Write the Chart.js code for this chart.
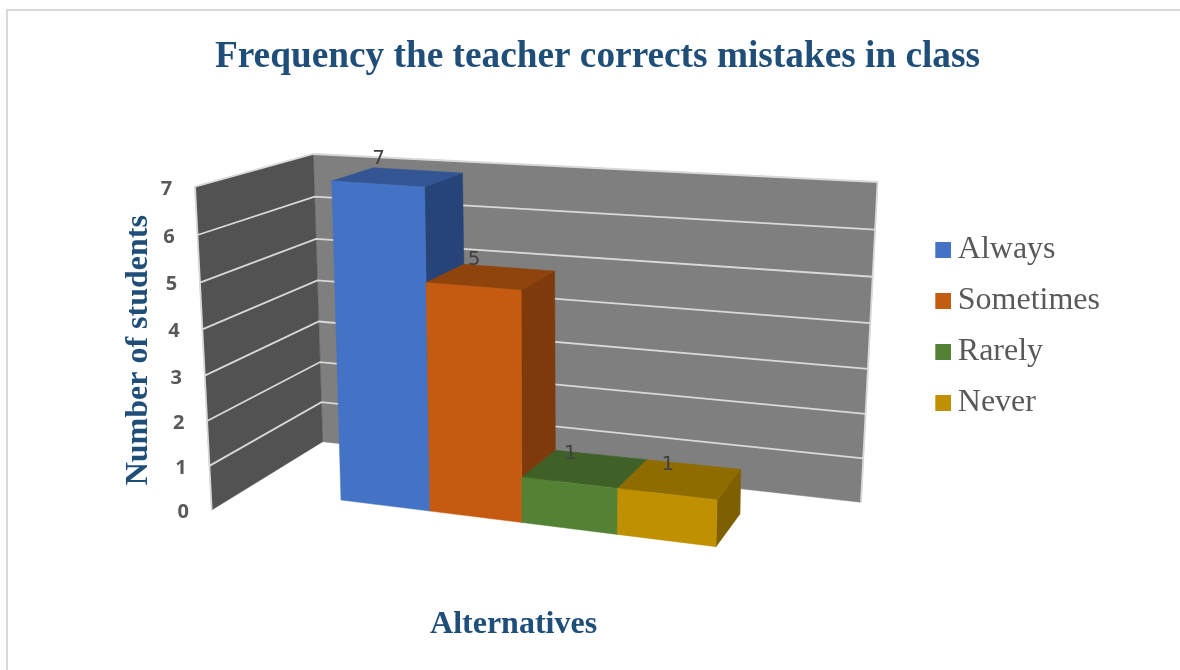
<!DOCTYPE html>
<html>
<head>
<meta charset="utf-8">
<script src="https://cdn.jsdelivr.net/npm/chart.js@4"></script>
<style>
  body { margin: 0; background: #fff; }
  #wrap { position: relative; width: 1180px; height: 670px; overflow: hidden; }
  #frame { position: absolute; left: 6px; top: 9px; right: -4px; bottom: -4px; border: 2px solid #d9d9d9; }
  canvas { position: absolute; left: 0; top: 0; }
</style>
</head>
<body>
<div id="wrap">
  <div id="frame"></div>
  <canvas id="myChart" width="1180" height="670"></canvas>
</div>
<script>
const chartTitle = 'Frequency the teacher corrects mistakes in class';
const yAxisTitle = 'Number of students';
const xAxisTitle = 'Alternatives';
const categories = ['Always', 'Sometimes', 'Rarely', 'Never'];
const studentCounts = [7, 5, 1, 1];
const yMin = 0;
const yMax = 7;
const yStep = 1;

const frontColors = ['#4472c4', '#c55a11', '#548235', '#bf9000'];
const topColors = ['#335593', '#8f440d', '#3f6128', '#8f6c00'];
const sideColors = ['#264478', '#7f3a0b', '#3a5a25', '#7f6000'];

// the 3d view: each plane goes bottom-left, bottom-right, top-right, top-left
const barFrontPlane = [[341, 500], [716, 546.7], [724, 206], [331.7, 181]];
const barBackPlane = [[381, 475], [740, 514], [746, 190], [373.3, 167.7]];
const backWall = [[322.7, 441.7], [861, 502.3], [877.6, 182], [313.3, 154]];
const leftWall = [[211.7, 510], [322.7, 441.7], [313.3, 154], [195, 186.7]];

function planeMapper(q) {
  const [p0, p1, p2, p3] = q;
  const dx1 = p1[0] - p2[0], dx2 = p3[0] - p2[0], sx = p0[0] - p1[0] + p2[0] - p3[0];
  const dy1 = p1[1] - p2[1], dy2 = p3[1] - p2[1], sy = p0[1] - p1[1] + p2[1] - p3[1];
  const den = dx1 * dy2 - dx2 * dy1;
  const g = (sx * dy2 - dx2 * sy) / den;
  const h = (dx1 * sy - sx * dy1) / den;
  const a = p1[0] - p0[0] + g * p1[0], b = p3[0] - p0[0] + h * p3[0];
  const d = p1[1] - p0[1] + g * p1[1], e = p3[1] - p0[1] + h * p3[1];
  return (u, v) => {
    const w = g * u + h * v + 1;
    return [(a * u + b * v + p0[0]) / w, (d * u + e * v + p0[1]) / w];
  };
}

const onFront = planeMapper(barFrontPlane);
const onBack = planeMapper(barBackPlane);
const onBackWall = planeMapper(backWall);
const onLeftWall = planeMapper(leftWall);

function fillQuad(ctx, pts, color) {
  ctx.beginPath();
  pts.forEach((p, i) => i ? ctx.lineTo(p[0], p[1]) : ctx.moveTo(p[0], p[1]));
  ctx.closePath();
  ctx.fillStyle = color;
  ctx.strokeStyle = color;
  ctx.lineWidth = 0.5;
  ctx.fill();
  ctx.stroke();
}

function drawWalls(chart) {
  const ctx = chart.ctx;
  const scale = chart.scales.y;
  const area = chart.chartArea;
  fillQuad(ctx, backWall, '#7f7f7f');
  fillQuad(ctx, leftWall, '#525252');

  ctx.strokeStyle = '#d9d9d9';
  ctx.lineWidth = 1.8;
  ctx.beginPath();
  scale.ticks.forEach((tick) => {
    const v = (area.bottom - scale.getPixelForValue(tick.value)) / area.height;
    if (v > 0) {
      const a = onLeftWall(0, v), b = onBackWall(0, v), c = onBackWall(1, v);
      ctx.moveTo(a[0], a[1]);
      ctx.lineTo(b[0], b[1]);
      ctx.lineTo(c[0], c[1]);
    }
  });
  ctx.moveTo(backWall[1][0], backWall[1][1]);
  ctx.lineTo(backWall[2][0], backWall[2][1]);
  ctx.moveTo(leftWall[0][0], leftWall[0][1]);
  ctx.lineTo(leftWall[3][0], leftWall[3][1]);
  ctx.stroke();

  // y tick labels follow the slanted front edge of the left wall
  ctx.font = 'bold 20px "Open Sans"';
  ctx.fillStyle = '#595959';
  ctx.textAlign = 'center';
  ctx.textBaseline = 'middle';
  scale.ticks.forEach((tick) => {
    const v = (area.bottom - scale.getPixelForValue(tick.value)) / area.height;
    const p = onLeftWall(0, v);
    ctx.fillText(tick.label, p[0] - 28.5, p[1] + 2.2);
  });
}

function drawBars(chart) {
  const ctx = chart.ctx;
  const area = chart.chartArea;
  chart.data.datasets.forEach((dataset, i) => {
    const bar = chart.getDatasetMeta(i).data[0];
    const u0 = (bar.x - bar.width / 2 - area.left) / area.width;
    const u1 = (bar.x + bar.width / 2 - area.left) / area.width;
    const v0 = (area.bottom - bar.base) / area.height;
    const v1 = (area.bottom - bar.y) / area.height;
    fillQuad(ctx, [onFront(u1, v0), onBack(u1, v0), onBack(u1, v1), onFront(u1, v1)], sideColors[i]);
    fillQuad(ctx, [onFront(u0, v1), onFront(u1, v1), onBack(u1, v1), onBack(u0, v1)], topColors[i]);
    fillQuad(ctx, [onFront(u0, v0), onFront(u1, v0), onFront(u1, v1), onFront(u0, v1)], frontColors[i]);
  });

  ctx.font = '20px "DejaVu Sans"';
  ctx.fillStyle = '#404040';
  ctx.textAlign = 'center';
  ctx.textBaseline = 'middle';
  chart.data.datasets.forEach((dataset, i) => {
    const bar = chart.getDatasetMeta(i).data[0];
    const v = (area.bottom - bar.y) / area.height;
    const p = onFront((bar.x - area.left) / area.width, v);
    ctx.fillText(dataset.data[0], p[0] + 1, p[1] - 29.5 + 4.5 * v);
  });
}

const view3d = {
  id: 'view3d',
  afterLayout(chart) {
    // title and legend sit off-centre in the original
    chart.titleBlock.left += 15;
    chart.titleBlock.right += 15;
    chart.legend.left += 65;
    chart.legend.right += 65;
    chart.legend.top -= 1;
    chart.legend.bottom -= 1;
  },
  beforeDatasetsDraw(chart) {
    drawWalls(chart);
    drawBars(chart);
    return false;
  }
};

function legendSwatch(color) {
  const c = document.createElement('canvas');
  c.width = 20;
  c.height = 16;
  const g = c.getContext('2d');
  g.fillStyle = color;
  g.fillRect(4, 0, 16, 16);
  return c;
}

const swatches = frontColors.map(legendSwatch);

new Chart(document.getElementById('myChart'), {
  type: 'bar',
  data: {
    labels: [''],
    datasets: categories.map((name, i) => ({
      label: name,
      data: [studentCounts[i]],
      backgroundColor: frontColors[i]
    }))
  },
  options: {
    responsive: false,
    animation: false,
    layout: { padding: { left: 120, right: 135, top: 10, bottom: 26 } },
    datasets: { bar: { categoryPercentage: 1, barPercentage: 1 } },
    scales: {
      x: {
        grid: { display: false },
        border: { display: false },
        ticks: { display: false },
        title: {
          display: true,
          text: xAxisTitle,
          color: '#1f4e79',
          font: { family: '"Liberation Serif"', size: 32, weight: 'bold' },
          padding: { top: 0, bottom: 0 }
        }
      },
      y: {
        min: yMin,
        max: yMax,
        grid: { display: false },
        border: { display: false },
        ticks: { display: false, stepSize: yStep },
        title: {
          display: true,
          text: yAxisTitle,
          color: '#1f4e79',
          font: { family: '"Liberation Serif"', size: 32, weight: 'bold' },
          padding: { top: 0, bottom: 4 }
        }
      }
    },
    plugins: {
      title: {
        display: true,
        text: chartTitle,
        color: '#1f4e79',
        font: { family: '"Liberation Serif"', size: 37.3, weight: 'bold' },
        padding: { top: 25, bottom: 23 }
      },
      legend: {
        position: 'right',
        labels: {
          usePointStyle: true,
          boxWidth: 1,
          boxHeight: 16,
          padding: 19,
          color: '#595959',
          font: { family: '"Liberation Serif"', size: 32 },
          generateLabels(chart) {
            return Chart.defaults.plugins.legend.labels.generateLabels(chart).map((item, i) => {
              item.pointStyle = swatches[i];
              return item;
            });
          }
        }
      },
      tooltip: { enabled: false }
    }
  },
  plugins: [view3d]
});
</script>
</body>
</html>
